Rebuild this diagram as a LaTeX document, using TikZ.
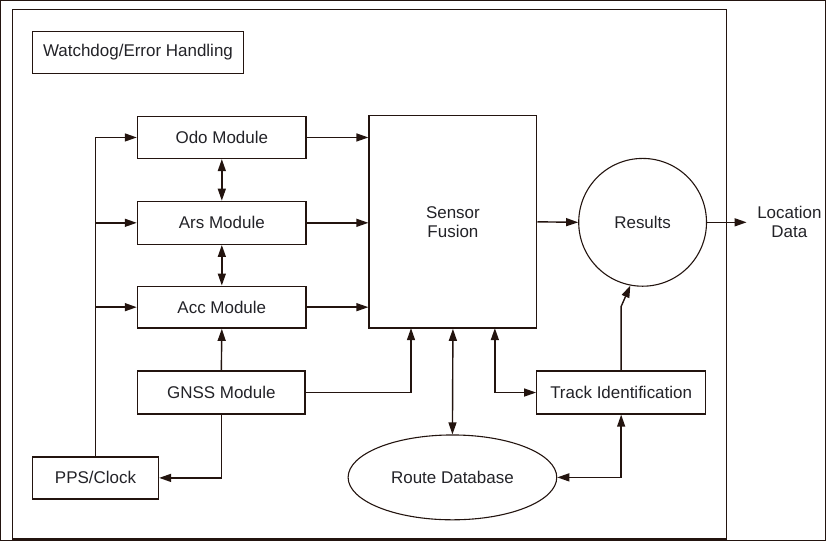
\documentclass[tikz,border=0pt]{standalone}
\usepackage{fontspec}
\setmainfont{Liberation Sans}
\usetikzlibrary{arrows.meta,shapes.geometric,calc}
\definecolor{lc}{RGB}{35,20,15}
\definecolor{tc}{RGB}{35,35,40}
\begin{document}
\begin{tikzpicture}[x=1pt,y=-1pt,
  font=\fontsize{17}{21}\selectfont, text=tc,
  every path/.style={line width=1.4pt, draw=lc},
  boxnode/.style={draw=lc, line width=1.4pt, rectangle, inner sep=0pt, minimum height=42pt, minimum width=169pt, fill=white},
  arr/.style={-{Triangle[length=12pt,width=8pt]}},
  darr/.style={{Triangle[length=12pt,width=8pt]}-{Triangle[length=12pt,width=8pt]}}]
\useasboundingbox (0,0) rectangle (826,541);
% outer frame
\draw[line width=1.6pt] (12,9) rectangle (727,539);
% nodes
\node[boxnode, minimum width=211pt] (wd) at (137.5,52) {Watchdog/Error Handling};
\node[boxnode] (odo) at (221.5,137) {Odo Module};
\node[boxnode, minimum height=43pt] (ars) at (221.5,222.5) {Ars Module};
\node[boxnode] (acc) at (221.5,307) {Acc Module};
\node[boxnode, minimum width=168pt, minimum height=43pt] (gnss) at (221,392.5) {GNSS Module};
\node[boxnode, minimum width=126pt] (pps) at (95,478) {PPS/Clock};
\node[boxnode, minimum width=168pt, minimum height=213pt, align=center] (sensor) at (453,221.5) {Sensor\\[-2pt]Fusion};
\node[draw=lc, line width=1.1pt, circle, minimum size=128pt, inner sep=0pt] (res) at (643,222) {Results};
\node[align=center, inner xsep=10pt, inner ysep=0pt] (loc) at (790,222) {Location\\[-2pt]Data};
\node[boxnode, minimum height=43pt] (track) at (621.5,392.5) {Track Identification};
\node[draw=lc, line width=1.1pt, ellipse, minimum width=209pt, minimum height=85pt, inner sep=0pt] (route) at (452.5,477.5) {Route Database};
% helper coordinates on sensor bottom
\coordinate (s1) at (411,328);
\coordinate (s3) at (495,328);
% left bus
\draw[arr] (pps.north) |- (odo.west);
\draw[arr] (pps.north |- ars.west) -- (ars.west);
\draw[arr] (pps.north |- acc.west) -- (acc.west);
% modules to sensor fusion
\draw[arr] (odo.east) -- (odo.east -| sensor.west);
\draw[arr] (ars.east) -- (ars.east -| sensor.west);
\draw[arr] (acc.east) -- (acc.east -| sensor.west);
% module interconnects
\draw[darr] (odo.south) -- (ars.north);
\draw[darr] (ars.south) -- (acc.north);
\draw[arr] (gnss.north) -- (acc.south);
\draw[arr] (gnss.east) -| (s1);
\draw[arr] (gnss.south) |- (pps.east);
% sensor fusion / route / track
\draw[darr] (sensor.south) -- (route.north);
\draw[darr] (track.west) -| (s3);
\draw[darr] (track.south) |- (route.east);
\draw[arr] (track.north) -- ++(0,-64) -- (res.-101);
% results
\draw[arr] (sensor.east) -- (res.west);
\draw[arr] (res.east) -- (loc.west);
\end{tikzpicture}
\end{document}
